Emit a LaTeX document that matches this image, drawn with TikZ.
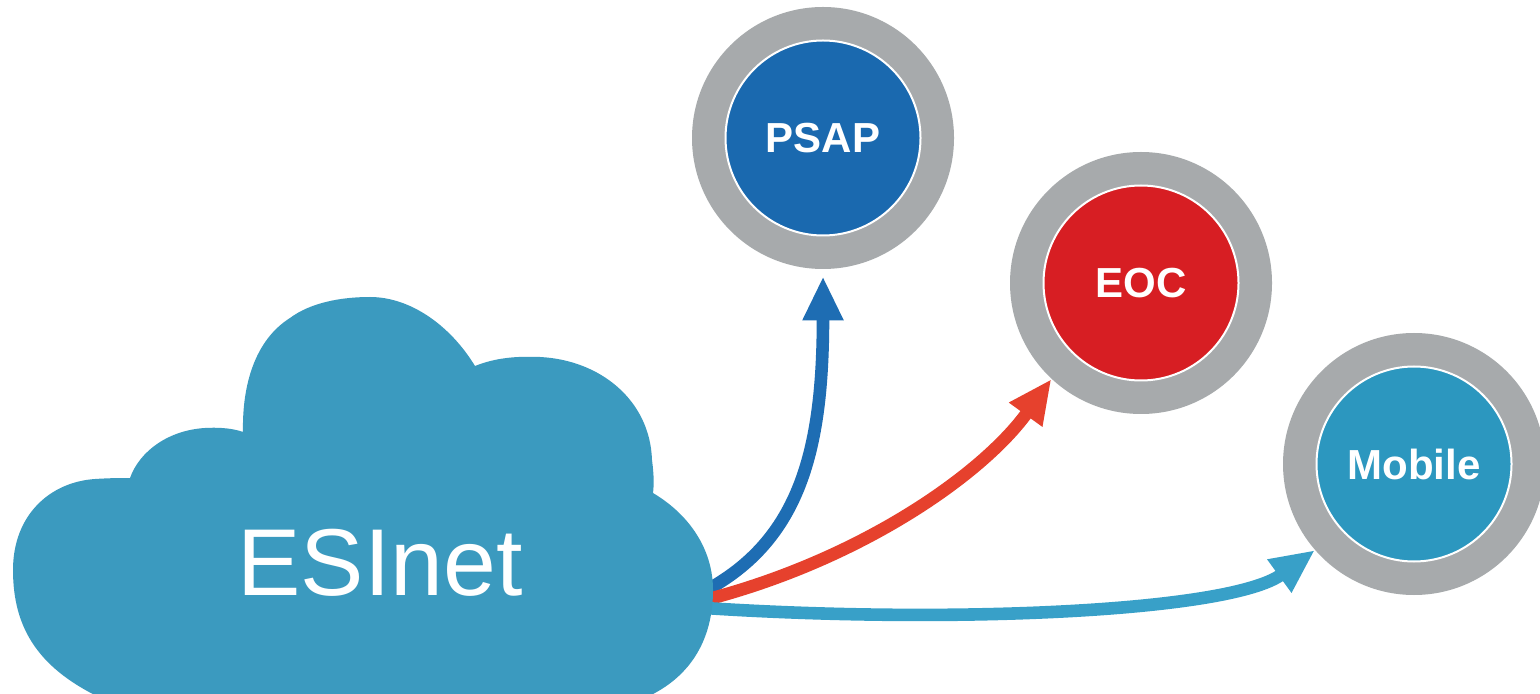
\documentclass[tikz,border=0pt]{standalone}
\usepackage{fontspec}
\setmainfont{Liberation Sans}
\usetikzlibrary{arrows.meta}
\definecolor{cloudc}{HTML}{3B9ABF}
\definecolor{ringc}{HTML}{A7AAAC}
\definecolor{psapc}{HTML}{1A69AF}
\definecolor{eocc}{HTML}{D71E23}
\definecolor{mobc}{HTML}{2C97BF}
\definecolor{arrblue}{HTML}{1E6DB3}
\definecolor{arrred}{HTML}{E6412D}
\definecolor{arrcyan}{HTML}{38A0C8}
\tikzset{
  grayring/.style={circle, fill=ringc, minimum size=131pt, inner sep=0pt},
  innerdisc/.style={circle, draw=white, line width=1pt, minimum size=97.5pt, inner sep=0pt,
    text=white, font=\fontsize{21}{25}\selectfont\bfseries},
  flowarrow/.style={line width=6.3pt, -{Triangle[length=22pt,width=19pt]}},
}
\begin{document}
\begin{tikzpicture}[x=0.5pt,y=-0.5pt]
\useasboundingbox (0,0) rectangle (1540,694);
\fill[white] (0,0) rectangle (1540,694);
\clip (0,0) rectangle (1540,694);

% circles
\node[grayring] (psap) at (823,138) {};
\node[innerdisc, fill=psapc] (psapin) at (823,138) {PSAP};
\node[grayring] (eoc) at (1141,283) {};
\node[innerdisc, fill=eocc] (eocin) at (1141,283) {EOC};
\node[grayring] (mob) at (1414,464) {};
\node[innerdisc, fill=mobc] (mobin) at (1414,464) {Mobile};

% start points inside the cloud
\coordinate (s1) at (705,591);
\coordinate (s2) at (705,600);
\coordinate (s3) at (705,608);

% arrows
\draw[flowarrow, arrblue, shorten >=3.5pt] (s1) .. controls (800,540) and (823,450) .. (psap.south);
\draw[flowarrow, arrred] (s2) .. controls (860,560) and (982,475) .. (eoc.227);
\draw[flowarrow, arrcyan] (s3) .. controls (950,624) and (1230,612) .. (mob.221);

% cloud
\fill[cloudc]
  (105,700) .. controls (40,670) and (13,630) .. (13,570)
  .. controls (13,515) and (50,482) .. (95,479)
  .. controls (110,478) and (122,478) .. (130,478)
  .. controls (140,450) and (170,430) .. (205,428)
  .. controls (222,427) and (235,429) .. (243,432)
  .. controls (242,385) and (255,340) .. (290,318)
  .. controls (310,303) and (340,297) .. (370,297)
  .. controls (410,297) and (450,325) .. (475,366)
  .. controls (495,358) and (515,356) .. (540,357)
  .. controls (600,360) and (650,400) .. (652,460)
  .. controls (654,475) and (654,485) .. (653,493)
  .. controls (690,515) and (713,550) .. (713,590)
  .. controls (713,640) and (690,680) .. (640,700)
  -- cycle;
\node[text=white, font=\fontsize{47.5}{55}\selectfont, anchor=base, inner sep=0pt] (esinet) at (380,595) {ESInet};
\end{tikzpicture}
\end{document}
